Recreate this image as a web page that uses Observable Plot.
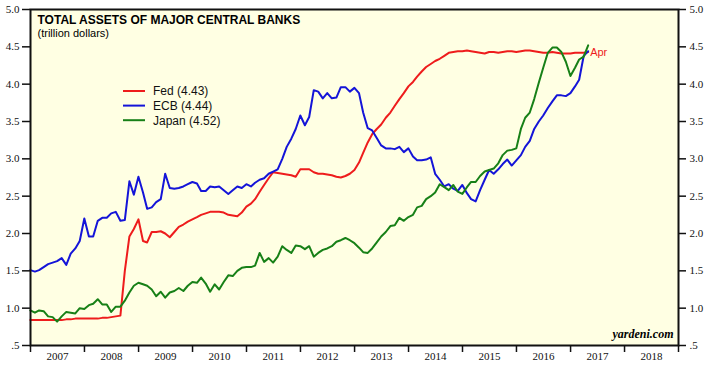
<!DOCTYPE html>
<html>
<head>
<meta charset="utf-8">
<script src="https://cdn.jsdelivr.net/npm/d3@7"></script>
<script src="https://cdn.jsdelivr.net/npm/@observablehq/plot@0.6"></script>
<style>
  html, body { margin: 0; padding: 0; background: #fff; }
</style>
</head>
<body>
<div id="chart"></div>
<script>
const titleText = "TOTAL ASSETS OF MAJOR CENTRAL BANKS";
const subtitleText = "(trillion dollars)";
const sourceText = "yardeni.com";
const lastMonthLabel = "Apr";

const seriesNames = ["Fed", "ECB", "Japan"];
const seriesColors = ["#ee1c1c", "#1414d8", "#178017"];

// month-end values, Dec 2006 .. Apr 2017 (trillion dollars)
const fed = [
  0.84,0.84,0.84,0.84,0.84,0.84,0.84,0.84,0.85,0.85,0.86,0.86,0.86,0.86,0.86,0.86,0.87,0.87,0.88,0.89,
  0.90,1.50,1.96,2.06,2.19,1.90,1.88,2.02,2.02,2.03,2.00,1.95,2.02,2.09,2.12,2.16,2.19,2.22,2.25,2.27,
  2.29,2.29,2.29,2.28,2.25,2.24,2.23,2.28,2.36,2.40,2.46,2.56,2.65,2.74,2.82,2.81,2.80,2.79,2.78,2.76,
  2.86,2.86,2.86,2.82,2.80,2.80,2.79,2.78,2.76,2.75,2.77,2.80,2.85,2.95,3.08,3.22,3.33,3.40,3.46,3.55,
  3.62,3.71,3.80,3.88,3.97,4.03,4.10,4.17,4.23,4.27,4.31,4.34,4.38,4.42,4.43,4.44,4.44,4.45,4.44,4.43,
  4.42,4.41,4.43,4.43,4.42,4.43,4.44,4.44,4.43,4.44,4.45,4.45,4.44,4.43,4.42,4.42,4.43,4.42,4.41,4.41,
  4.41,4.42,4.42,4.42,4.43
];
const ecb = [
  1.51,1.49,1.51,1.55,1.59,1.61,1.63,1.67,1.58,1.73,1.80,1.90,2.20,1.96,1.96,2.17,2.21,2.21,2.27,2.29,
  2.17,2.18,2.70,2.52,2.76,2.55,2.33,2.35,2.42,2.46,2.80,2.61,2.60,2.61,2.63,2.66,2.69,2.67,2.57,2.57,
  2.63,2.62,2.63,2.58,2.53,2.58,2.63,2.61,2.66,2.63,2.68,2.72,2.74,2.80,2.83,2.86,3.00,3.16,3.27,3.40,
  3.58,3.45,3.56,3.92,3.90,3.81,3.88,3.81,3.82,3.96,3.96,3.90,3.95,3.88,3.62,3.41,3.38,3.28,3.18,3.14,
  3.14,3.13,3.16,3.09,3.14,3.03,2.98,2.98,2.99,3.02,2.80,2.72,2.63,2.66,2.60,2.57,2.65,2.54,2.46,2.43,
  2.58,2.72,2.85,2.80,2.86,2.93,2.99,2.91,2.98,3.05,3.16,3.24,3.40,3.50,3.58,3.68,3.77,3.85,3.85,3.84,
  3.88,3.97,4.06,4.38,4.44
];
const japan = [
  0.97,0.94,0.97,0.96,0.89,0.88,0.82,0.89,0.95,0.94,0.93,1.00,0.99,1.04,1.06,1.12,1.05,1.05,0.95,1.02,
  1.02,1.10,1.21,1.30,1.34,1.32,1.30,1.25,1.16,1.22,1.14,1.21,1.23,1.27,1.23,1.30,1.35,1.34,1.41,1.33,
  1.22,1.32,1.25,1.35,1.44,1.43,1.50,1.54,1.55,1.55,1.57,1.74,1.62,1.67,1.61,1.69,1.83,1.78,1.74,1.84,
  1.83,1.79,1.83,1.69,1.74,1.78,1.80,1.83,1.89,1.91,1.94,1.91,1.87,1.81,1.75,1.74,1.80,1.88,1.96,2.02,
  2.10,2.11,2.21,2.17,2.22,2.25,2.35,2.37,2.46,2.50,2.55,2.66,2.62,2.58,2.65,2.56,2.53,2.62,2.69,2.69,
  2.77,2.83,2.85,2.87,2.94,3.05,3.11,3.12,3.14,3.40,3.55,3.62,3.80,4.02,4.22,4.42,4.49,4.49,4.43,4.30,
  4.11,4.22,4.33,4.37,4.52
];

const yTicks = [0.5, 1.0, 1.5, 2.0, 2.5, 3.0, 3.5, 4.0, 4.5, 5.0];
const yearBounds = [2007, 2008, 2009, 2010, 2011, 2012, 2013, 2014, 2015, 2016, 2017, 2018, 2019];
const yearLabels = [2007, 2008, 2009, 2010, 2011, 2012, 2013, 2014, 2015, 2016, 2017, 2018];

// build table
const allSeries = [fed, ecb, japan];
const rows = [];
allSeries.forEach((arr, s) => {
  arr.forEach((v, i) => rows.push({date: new Date(Date.UTC(2006, 11 + i + 1, 0)), value: v, series: seriesNames[s]}));
});
const fedRows = rows.filter(d => d.series === "Fed");
const fedLast = [fedRows[fedRows.length - 1]];

const yFmt = d => d === 0.5 ? ".5" : d.toFixed(1);
const boundDates = yearBounds.map(y => new Date(Date.UTC(y, 0, 1)));
const midDates = yearLabels.map(y => new Date(Date.UTC(y, 6, 2)));

const sans = "'Liberation Sans', Arial, Helvetica, sans-serif";
const serif = "'Liberation Serif', 'Times New Roman', serif";

function legend(index, scales, values, dimensions) {
  const g = d3.create("svg:g");
  const x0 = dimensions.marginLeft + 93;
  const y0 = dimensions.marginTop + 82;
  allSeries.forEach((arr, i) => {
    const y = y0 + i * 14.6;
    g.append("line")
      .attr("x1", x0).attr("x2", x0 + 22)
      .attr("y1", y).attr("y2", y)
      .attr("stroke", seriesColors[i]).attr("stroke-width", 2);
    g.append("text")
      .attr("x", x0 + 30).attr("y", y).attr("dy", "0.36em")
      .attr("text-anchor", "start")
      .attr("font-family", sans).attr("font-size", 12).attr("fill", "#111")
      .text(`${seriesNames[i]} (${arr[arr.length - 1].toFixed(2)})`);
  });
  return g.node();
}

const chart = Plot.plot({
  width: 712,
  height: 373,
  marginLeft: 30,
  marginRight: 34,
  marginTop: 9,
  marginBottom: 28,
  style: {fontFamily: serif, fontSize: "11px", color: "#111", background: "#fff"},
  x: {type: "utc", domain: [boundDates[0], boundDates[boundDates.length - 1]], label: null},
  y: {domain: [0.5, 5], label: null},
  color: {domain: seriesNames, range: seriesColors},
  marks: [
    Plot.frame({fill: "#ffffe3", stroke: "none"}),
    Plot.line(rows, {x: "date", y: "value", z: "series", stroke: "series", strokeWidth: 2}),
    Plot.frame({stroke: "#111", strokeWidth: 2}),
    Plot.axisY({anchor: "left", ticks: yTicks, tickSize: 8, tickPadding: 3, tickFormat: yFmt, strokeWidth: 1.5, label: null}),
    Plot.axisY({anchor: "right", ticks: yTicks, tickSize: 7, tickPadding: 4, tickFormat: yFmt, strokeWidth: 1.5, label: null}),
    Plot.axisX({anchor: "bottom", ticks: boundDates, tickSize: 7, tickFormat: () => "", strokeWidth: 1.5, label: null}),
    Plot.axisX({anchor: "bottom", ticks: midDates, tickSize: 0, tickPadding: 7, tickFormat: d => String(d.getUTCFullYear()), label: null}),
    Plot.text([titleText], {text: d => d, frameAnchor: "top-left", dx: 7, dy: 6, lineAnchor: "top", textAnchor: "start",
      fontFamily: sans, fontWeight: "bold", fontSize: 12, fill: "#000"}),
    Plot.text([subtitleText], {text: d => d, frameAnchor: "top-left", dx: 7, dy: 20, lineAnchor: "top", textAnchor: "start",
      fontFamily: sans, fontSize: 11, fill: "#000"}),
    Plot.text([sourceText], {text: d => d, frameAnchor: "bottom-right", dx: -5, dy: -7.5, textAnchor: "end",
      fontFamily: serif, fontWeight: "bold", fontStyle: "italic", fontSize: 12, fill: "#000"}),
    Plot.text(fedLast, {x: "date", y: "value", text: () => lastMonthLabel, dx: 2, textAnchor: "start",
      fontFamily: sans, fontSize: 11, fill: seriesColors[0]}),
    legend
  ]
});
document.getElementById("chart").appendChild(chart);
</script>
</body>
</html>
